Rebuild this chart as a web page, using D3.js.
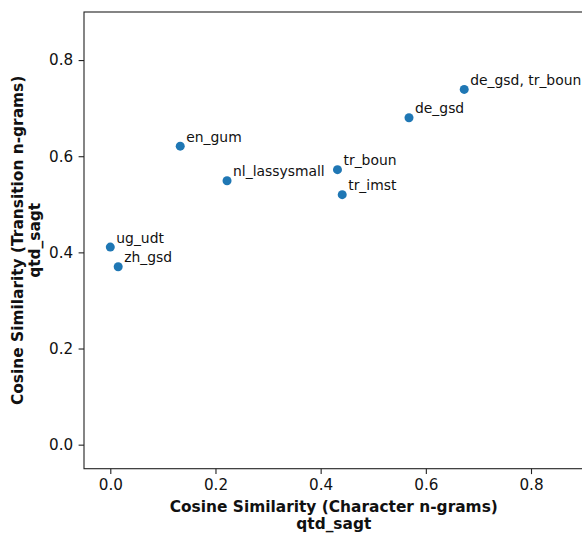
<!DOCTYPE html>
<html>
<head>
<meta charset="utf-8">
<script src="https://cdn.jsdelivr.net/npm/d3@7"></script>
<style>
  html, body { margin: 0; padding: 0; background: #fff; }
  svg { display: block; font-family: "DejaVu Sans", sans-serif; }
</style>
</head>
<body>
<svg id="chart" width="582" height="533"></svg>
<script>
// Treebank pairs compared with qtd_sagt
const treebanks = ["de_gsd, tr_boun", "de_gsd", "en_gum", "nl_lassysmall", "tr_boun", "tr_imst", "ug_udt", "zh_gsd"];
const charSimilarity = [0.673, 0.568, 0.133, 0.222, 0.432, 0.441, 0.000, 0.015];
const transSimilarity = [0.739, 0.680, 0.621, 0.549, 0.572, 0.520, 0.411, 0.370];
const xTicks = [0.0, 0.2, 0.4, 0.6, 0.8];
const yTicks = [0.0, 0.2, 0.4, 0.6, 0.8];

const svg = d3.select("#chart");
const plotLeft = 84, plotTop = 12, plotRight = 583.6, plotBottom = 468.7;

const x = d3.scaleLinear().domain([-0.05, 0.9]).range([plotLeft, plotRight]);
const y = d3.scaleLinear().domain([-0.05, 0.9]).range([plotBottom, plotTop]);

const fmt = d3.format(".1f");

// Axes
const xAxis = svg.append("g")
  .attr("transform", `translate(0,${plotBottom})`)
  .call(d3.axisBottom(x).tickValues(xTicks).tickFormat(fmt).tickSizeOuter(0).tickSize(5.4).tickPadding(5));
const yAxis = svg.append("g")
  .attr("transform", `translate(${plotLeft},0)`)
  .call(d3.axisLeft(y).tickValues(yTicks).tickFormat(fmt).tickSizeOuter(0).tickSize(5.4).tickPadding(5.4));

[xAxis, yAxis].forEach(g => {
  g.select(".domain").remove();
  g.selectAll(".tick line").attr("stroke", "#222").attr("stroke-width", 1.1);
  g.selectAll(".tick text").attr("font-size", 15.2).attr("fill", "#111")
    .attr("font-family", "DejaVu Sans");
});

// Spines
svg.append("rect")
  .attr("x", plotLeft).attr("y", plotTop)
  .attr("width", plotRight - plotLeft).attr("height", plotBottom - plotTop)
  .attr("stroke", "#222").attr("stroke-width", 1.1).attr("fill", "none");

const points = treebanks.map((t, i) => ({ name: t, cx: charSimilarity[i], ty: transSimilarity[i] }));

// Points
svg.append("g").selectAll("circle")
  .data(points)
  .join("circle")
  .attr("cx", d => x(d.cx))
  .attr("cy", d => y(d.ty))
  .attr("r", 4.5)
  .attr("fill", "#1f77b4");

// Point labels
svg.append("g").selectAll("text")
  .data(points)
  .join("text")
  .attr("x", d => x(d.cx) + 6)
  .attr("y", d => y(d.ty) - 4.5)
  .attr("font-size", 13.9)
  .attr("fill", "#111")
  .text(d => d.name);

// Axis titles
const xMid = (plotLeft + plotRight) / 2;
const xTitle = svg.append("text")
  .attr("text-anchor", "middle")
  .attr("font-weight", "bold")
  .attr("font-size", 15.4)
  .attr("fill", "#111");
xTitle.append("tspan").attr("x", xMid).attr("y", 512).text("Cosine Similarity (Character n-grams)");
xTitle.append("tspan").attr("x", xMid).attr("y", 528.5).text("qtd_sagt");

const yMid = (plotTop + plotBottom) / 2;
const yTitle = svg.append("text")
  .attr("text-anchor", "middle")
  .attr("font-weight", "bold")
  .attr("font-size", 15.4)
  .attr("fill", "#111")
  .attr("transform", `translate(0,${yMid}) rotate(-90)`);
yTitle.append("tspan").attr("x", 0).attr("y", 22.5).text("Cosine Similarity (Transition n-grams)");
yTitle.append("tspan").attr("x", 0).attr("y", 39.5).text("qtd_sagt");
</script>
</body>
</html>
